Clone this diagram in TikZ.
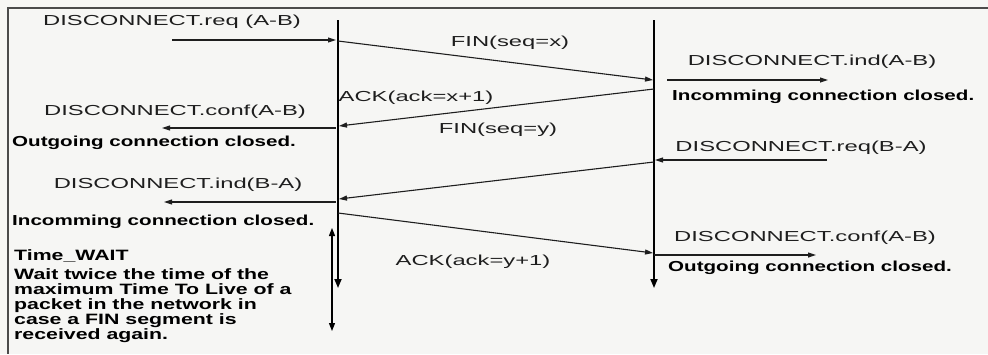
\documentclass[tikz,border=0pt]{standalone}
\usepackage{fontspec}
\setmainfont{Liberation Sans}[FakeStretch=1.64, BoldFeatures={FakeStretch=1.42}]
\usepackage{tikz}
\usetikzlibrary{arrows.meta,positioning,calc}
\definecolor{paper}{RGB}{246,246,244}
\definecolor{ink}{RGB}{30,30,30}
\tikzset{
  msg/.style={font=\fontsize{14.5}{15.5}\selectfont, text=ink, inner sep=0pt},
  note/.style={font=\fontsize{14.5}{15.5}\selectfont\bfseries, text=black, inner sep=0pt, anchor=west},
  arr/.style={-{Triangle[length=8pt,width=5pt]}, line width=1.1pt, draw=ink},
  life/.style={-{Triangle[length=9pt,width=7pt]}, line width=1.7pt, draw=black},
}

\begin{document}
\begin{tikzpicture}[x=1pt, y=-1pt]
\useasboundingbox[fill=paper] (0,0) rectangle (988,354);
\draw[line width=1.4pt, draw=ink!80] (988,8) -- (8,8) -- (8,354);
\coordinate (Atop) at (338,20);
\coordinate (Abot) at (338,288);
\coordinate (Btop) at (654,20);
\coordinate (Bbot) at (654,288);
\draw[life] (Atop) -- (Abot);
\draw[life] (Btop) -- (Bbot);
\node[msg] (reqAB) at (172,22) {DISCONNECT.req (A-B)};
\coordinate (reqABs) at (172,40);
\coordinate (reqABe) at (336,40);
\draw[arr] (reqABs) -- (reqABe);
\coordinate (fin1s) at (338,41);
\coordinate (fin1e) at (653,80);
\draw[arr] (fin1s) -- (fin1e);
\node[msg] (fin1) at (510,43) {FIN(seq=x)};
\node[msg] (indAB) at (812,62) {DISCONNECT.ind(A-B)};
\coordinate (indABs) at (667,80);
\coordinate (indABe) at (828,80);
\draw[arr] (indABs) -- (indABe);
\node[note] (inB1) at (672,97) {Incomming connection closed.};
\coordinate (ack1s) at (654,89);
\coordinate (ack1e) at (339,126);
\draw[arr] (ack1s) -- (ack1e);
\node[msg] (ack1) at (416,98) {ACK(ack=x+1)};
\node[msg] (confAB) at (175,112) {DISCONNECT.conf(A-B)};
\coordinate (confABs) at (336,128);
\coordinate (confABe) at (162,128);
\draw[arr] (confABs) -- (confABe);
\node[note] (outA) at (12,143) {Outgoing connection closed.};
\node[msg] (reqBA) at (801,148) {DISCONNECT.req(B-A)};
\coordinate (reqBAs) at (827,160);
\coordinate (reqBAe) at (655,160);
\draw[arr] (reqBAs) -- (reqBAe);
\node[msg] (fin2) at (498,130) {FIN(seq=y)};
\coordinate (fin2s) at (654,162);
\coordinate (fin2e) at (339,199);
\draw[arr] (fin2s) -- (fin2e);
\node[msg] (indBA) at (178,185) {DISCONNECT.ind(B-A)};
\coordinate (indBAs) at (336,202);
\coordinate (indBAe) at (164,202);
\draw[arr] (indBAs) -- (indBAe);
\node[note] (inA) at (12,222) {Incomming connection closed.};
\coordinate (ack2s) at (338,213);
\coordinate (ack2e) at (653,253);
\draw[arr] (ack2s) -- (ack2e);
\node[msg] (ack2) at (473,262) {ACK(ack=y+1)};
\node[msg] (confAB2) at (805,238) {DISCONNECT.conf(A-B)};
\coordinate (confAB2s) at (654,255);
\coordinate (confAB2e) at (816,255);
\draw[arr] (confAB2s) -- (confAB2e);
\node[note] (outB) at (668,268) {Outgoing connection closed.};
\coordinate (waitTop) at (332,228);
\coordinate (waitBot) at (332,331);
\draw[{Triangle[length=8pt,width=6pt]}-{Triangle[length=8pt,width=6pt]}, line width=1.2pt, draw=black] (waitTop) -- (waitBot);
\node[note, anchor=north west, align=left, font=\fontsize{15}{15}\selectfont\bfseries] (wait) at (14,249) {Time\_WAIT\\[4pt]Wait twice the time of the\\maximum Time To Live of a\\packet in the network in\\case a FIN segment is\\received again.};
\end{tikzpicture}
\end{document}
